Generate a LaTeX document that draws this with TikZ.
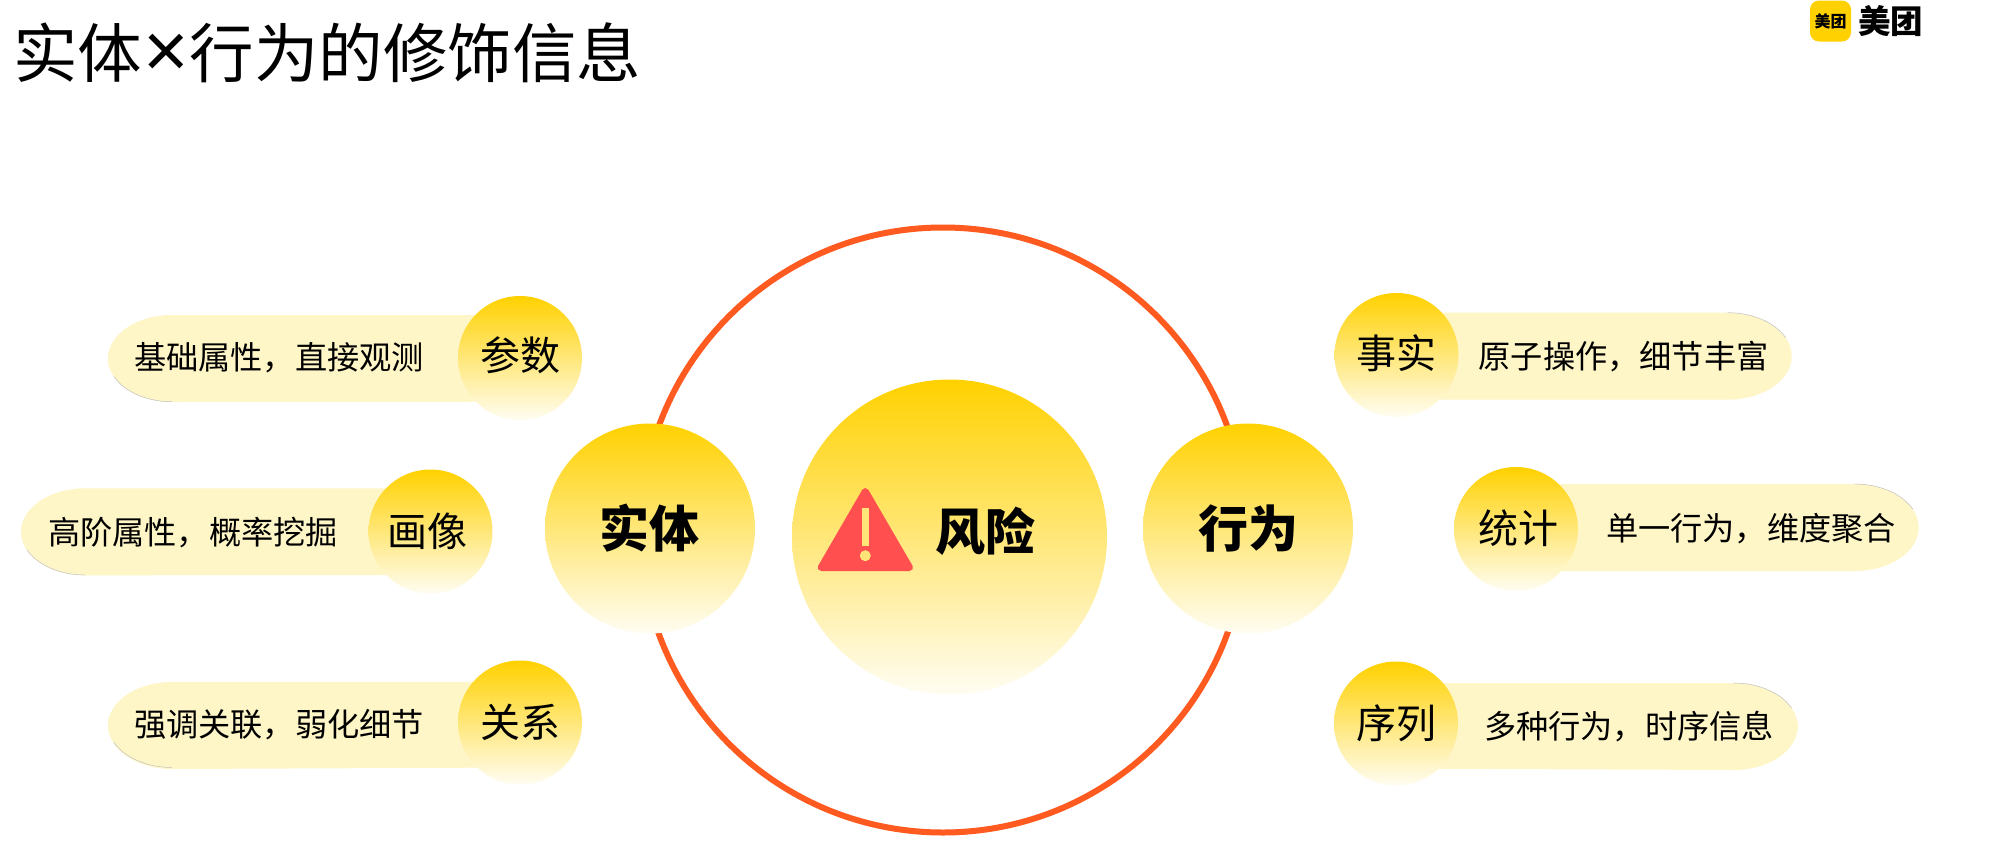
\documentclass[tikz,border=0pt]{standalone}
\usepackage{fontspec}
\setmainfont{Noto Sans CJK SC}
\newfontfamily\latinfont{Liberation Sans}
\definecolor{ringc}{HTML}{FF5A20}
\definecolor{ballt}{HTML}{FFD100}
\definecolor{ballm}{HTML}{FFE264}
\definecolor{ballb}{HTML}{FFFDF2}
\definecolor{pillo}{HTML}{FFF6C8}
\definecolor{pillm}{HTML}{FFF09C}
\definecolor{warnc}{HTML}{FF4F4F}
\definecolor{warnx}{HTML}{FFE477}
\tikzset{
  ball/.style={circle,inner sep=0pt,text=black,top color=ballt,middle color=ballm,bottom color=ballb,shading angle=0},
  smallball/.style={ball,minimum size=124pt,font=\fontsize{40}{44}\selectfont,text height=35pt,text depth=#1},
  smallball/.default=6pt,
  bigball/.style={ball,minimum size=210pt,font=\fontsize{50}{54}\selectfont\bfseries},
  pilltext/.style={inner sep=0pt,text=black,font=\fontsize{32.2}{36}\selectfont},
  pillfill/.style={top color=pillo,middle color=pillm,bottom color=pillo},
  pilledge/.style={draw=black!25,line width=.5pt},
}
\newcommand{\pillleft}[4]{%
  \path[pillfill] (#4,#2) -- (#1+64,#2) arc[start angle=90,end angle=270,x radius=64pt,y radius=43.5pt] -- (#4,#3) -- cycle;
  \draw[pilledge] (#1+64,#3) arc[start angle=270,end angle=205,x radius=64pt,y radius=43.5pt];
}
\newcommand{\pillright}[4]{%
  \path[pillfill] (#4,#2) -- (#1-64,#2) arc[start angle=90,end angle=-90,x radius=64pt,y radius=43.5pt] -- (#4,#3) -- cycle;
  \draw[pilledge] (#1-64,#2) arc[start angle=90,end angle=25,x radius=64pt,y radius=43.5pt];
}
\begin{document}
\begin{tikzpicture}[x=1pt,y=-1pt]
\useasboundingbox (0,0) rectangle (1992,865);
\fill[white] (0,0) rectangle (1992,865);
% title
\node[inner sep=0pt,anchor=west,font=\fontsize{64.5}{70}\selectfont] (title) at (13,53) {实体\hspace{1pt}{\latinfont\fontsize{78}{70}\selectfont ×}\hspace{1pt}行为的修饰信息};
% logo
\node[fill=ballt,rounded corners=9pt,minimum size=41pt,inner sep=0pt,font=\fontsize{16}{18}\selectfont\bfseries] (logomark) at (1830.5,21) {美团};
\node[inner sep=0pt,anchor=west,font=\fontsize{32.5}{36}\selectfont\bfseries] (logotext) at (1858,21) {美团};
% ring
\node[circle,draw=ringc,line width=6pt,minimum size=605pt,inner sep=0pt] (ring) at (943,530) {};
% centre
\node[ball,minimum size=315pt] (risk) at (949.5,537) {};
\node[inner sep=0pt,font=\fontsize{50}{54}\selectfont\bfseries] (risklabel) at (985,531) {风险};
\draw[fill=warnc,draw=warnc,line width=7pt,line join=round] (865.3,491.5) -- (909.5,567.5) -- (821.2,567.5) -- cycle;
\fill[warnx] (862.3,507.7) rectangle (869,546);
\fill[warnx] (865.3,555.7) circle[radius=5.5pt];
% entity and behaviour
\node[bigball] (entity) at (650,528.5) {实体\hspace*{2pt}};
\node[bigball] (behav) at (1248,528.5) {行为};
% left pills
\pillleft{108}{315}{401.7}{520}
\node[smallball=11pt] (b1) at (520,358) {参数};
\node[pilltext] (t1) at (279,358) {基础属性，直接观测};
\pillleft{21}{488.3}{575}{430}
\node[smallball] (b2) at (430.5,531.5) {画像\hspace*{7pt}};
\node[pilltext] (t2) at (193,533) {高阶属性，概率挖掘};
\pillleft{108}{682}{767.5}{520}
\node[smallball] (b3) at (520,722.5) {关系};
\node[pilltext] (t3) at (279,725) {强调关联，弱化细节};
% right pills
\pillright{1791.7}{312.7}{399.7}{1396}
\node[smallball=9pt] (b4) at (1396.5,355) {事实};
\node[pilltext] (t4) at (1623.5,357) {原子操作，细节丰富};
\pillright{1918.7}{484}{571}{1516}
\node[smallball] (b5) at (1516,529) {\hspace*{5.4pt}统计};
\node[pilltext] (t5) at (1751,529) {单一行为，维度聚合};
\pillright{1797.6}{683}{768.6}{1396}
\node[smallball] (b6) at (1396,723.5) {序列};
\node[pilltext] (t6) at (1629,727) {多种行为，时序信息};
\end{tikzpicture}
\end{document}
